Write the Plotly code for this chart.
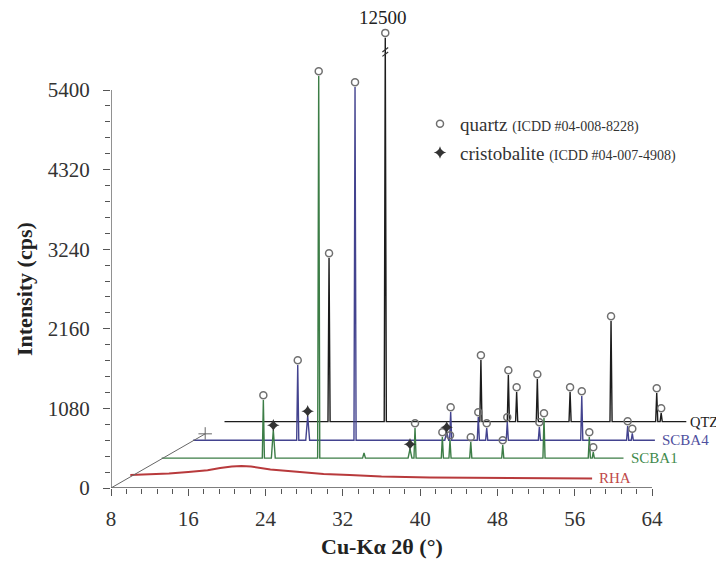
import plotly.graph_objects as go

# ---------------- data ----------------
scan_start = 10.0     # 2theta start of every pattern
scan_end = 57.8       # 2theta end of every pattern

series_names = ["RHA", "SCBA1", "SCBA4", "QTZ"]

# RHA: amorphous hump only
rha_2theta = [10, 12, 14, 16, 18, 19.3, 20.5, 21.5, 22.5, 24.5, 27.6, 30, 32.7, 36, 41, 46, 52, 57.8]
rha_counts = [176, 185, 197, 217, 240, 271, 292, 298, 292, 251, 217, 190, 176, 156, 142, 136, 132, 129]

# SCBA1
scba1_background = 160
scba1_quartz_2theta = [20.52, 26.25, 36.22, 39.05, 39.84, 41.99, 45.30, 49.57, 54.26, 54.67]
scba1_quartz_counts = [949, 5345, 569, 447, 406, 379, 338, 705, 447, 243]
scba1_cristo_2theta = [21.55, 35.70]
scba1_cristo_counts = [542, 284]
scba1_other_2theta = [30.94]
scba1_other_counts = [230]

# SCBA4
scba4_background = 158
scba4_quartz_2theta = [20.83, 26.76, 36.66, 39.52, 40.39, 42.52, 45.84, 50.23, 54.98, 55.46]
scba4_quartz_counts = [1179, 4951, 541, 473, 324, 406, 338, 758, 351, 250]
scba4_cristo_2theta = [21.86, 36.25]
scba4_cristo_counts = [487, 270]

# QTZ
qtz_background = 165
qtz_quartz_2theta = [20.82, 26.64, 36.54, 39.38, 40.24, 42.38, 45.77, 50.01, 54.74, 55.20]
qtz_quartz_counts = [2386, 12500, 1002, 798, 568, 744, 568, 1531, 554, 283]

y_tick_vals = [0, 1080, 2160, 3240, 4320, 5400]
x_tick_vals = [8, 16, 24, 32, 40, 48, 56, 64]

# ---------------- style / layout constants ----------------
DX = 3.25        # horizontal depth shift per series (deg)
DY = 245         # vertical depth shift per series (cps)
CLIP_TOP = 6110  # displayed top of the broken peak
MARK_PAD = 65
FONT = "Liberation Serif"
colors = {"RHA": "#b83a3c", "SCBA1": "#3c7d46", "SCBA4": "#43438f", "QTZ": "#1c1c1c"}
label_colors = {"RHA": "#c04a4a", "SCBA1": "#3f8a4c", "SCBA4": "#50509e", "QTZ": "#222222"}
label_shift = {"RHA": 6, "SCBA1": 6, "SCBA4": 6, "QTZ": 3}
label_size = {"RHA": 15, "SCBA1": 15, "SCBA4": 15, "QTZ": 14.5}

PAGE_OFF = 8                     # browser body margin
W, H = 724 - PAGE_OFF, 562 - PAGE_OFF
ML, MR, MT, MB = 111 - PAGE_OFF, 0, 0, 562 - 488
px_per_deg = 541 / 56.0
px_per_cps = 398 / 5400.0
PW, PH = W - ML - MR, H - MT - MB
x_range = [8, 8 + PW / px_per_deg]
y_range = [0, PH / px_per_cps]


def profile(bg, peaks):
    xs, ys = [scan_start], [bg]
    for pos, h, hw in sorted(peaks):
        xs += [pos - hw, pos, pos + hw]
        ys += [bg, h, bg]
    xs.append(scan_end)
    ys.append(bg)
    return xs, ys


patterns = {"RHA": (0, rha_2theta, rha_counts)}
p1 = ([(p, h, 0.11) for p, h in zip(scba1_quartz_2theta, scba1_quartz_counts)]
      + [(p, h, 0.2) for p, h in zip(scba1_cristo_2theta, scba1_cristo_counts)]
      + [(p, h, 0.15) for p, h in zip(scba1_other_2theta, scba1_other_counts)])
patterns["SCBA1"] = (1,) + profile(scba1_background, p1)
p4 = ([(p, h, 0.11) for p, h in zip(scba4_quartz_2theta, scba4_quartz_counts)]
      + [(p, h, 0.2) for p, h in zip(scba4_cristo_2theta, scba4_cristo_counts)])
patterns["SCBA4"] = (2,) + profile(scba4_background, p4)
pq = [(p, h, 0.11) for p, h in zip(qtz_quartz_2theta, qtz_quartz_counts)]
patterns["QTZ"] = (3,) + profile(qtz_background, pq)


def disp(d, xs, ys):
    return ([x + d * DX for x in xs], [min(y, CLIP_TOP - d * DY) + d * DY for y in ys])


fig = go.Figure()

for name in ["QTZ", "SCBA4", "SCBA1", "RHA"]:
    d, xs, ys = patterns[name]
    dx, dy = disp(d, xs, ys)
    fig.add_trace(go.Scatter(x=dx, y=dy, mode="lines", showlegend=False, hoverinfo="skip",
                             line=dict(color=colors[name], width=2 if name == "RHA" else 1.4)))

q_sets = [(1, scba1_quartz_2theta, scba1_quartz_counts),
          (2, scba4_quartz_2theta, scba4_quartz_counts),
          (3, qtz_quartz_2theta, qtz_quartz_counts)]
c_sets = [(1, scba1_cristo_2theta, scba1_cristo_counts),
          (2, scba4_cristo_2theta, scba4_cristo_counts)]
qx, qy, cx, cy = [], [], [], []
for d, ps, hs in q_sets:
    a, b = disp(d, ps, hs)
    qx += a
    qy += [v + MARK_PAD for v in b]
for d, ps, hs in c_sets:
    a, b = disp(d, ps, hs)
    cx += a
    cy += [v + MARK_PAD for v in b]

fig.add_trace(go.Scatter(
    x=qx, y=qy, mode="markers", legendgroup="q",
    name='quartz <span style="font-size:14px">(ICDD #04-008-8228)</span>',
    marker=dict(symbol="circle-open", size=7, color="#707070", line=dict(width=1.5, color="#707070"))))
fig.add_trace(go.Scatter(
    x=cx, y=cy, mode="markers", legendgroup="c",
    name='cristobalite <span style="font-size:14px">(ICDD #04-007-4908)</span>',
    marker=dict(symbol="star-diamond", size=9, color="#333333")))

axis_col = "#555555"
shapes = [
    dict(type="line", xref="x", yref="y", x0=8, y0=0, x1=8, y1=y_tick_vals[-1],
         line=dict(color=axis_col, width=1.3)),
    dict(type="line", xref="x", yref="y", x0=8, y0=0, x1=x_tick_vals[-1], y1=0,
         line=dict(color=axis_col, width=1.3)),
    dict(type="line", xref="x", yref="y", x0=8, y0=0, x1=8 + 3 * DX, y1=3 * DY,
         line=dict(color="#666666", width=1)),
    dict(type="line", xref="x", yref="y", x0=8 + 3 * DX - 0.7, y0=3 * DY, x1=8 + 3 * DX + 0.7, y1=3 * DY,
         line=dict(color="#666666", width=1)),
    dict(type="line", xref="x", yref="y", x0=8 + 3 * DX, y0=3 * DY - 80, x1=8 + 3 * DX, y1=3 * DY + 90,
         line=dict(color="#666666", width=1)),
]
bx = qtz_quartz_2theta[1] + 3 * DX
by = 5916
for off in (-30, 30):
    shapes.append(dict(type="line", xref="x", yref="y", x0=bx - 0.3, y0=by + off - 30,
                       x1=bx + 0.3, y1=by + off + 30, line=dict(color="#333333", width=1.2)))

annotations = []
for name in series_names:
    d, xs, ys = patterns[name]
    a, b = disp(d, [xs[-1]], [ys[-1]])
    annotations.append(dict(x=a[0], y=b[0], xref="x", yref="y", text=name, showarrow=False,
                            xanchor="left", yanchor="middle", xshift=label_shift[name], borderpad=0,
                            font=dict(family=FONT, size=label_size[name], color=label_colors[name])))
annotations.append(dict(x=bx, y=CLIP_TOP + MARK_PAD, xref="x", yref="y", text=str(qtz_quartz_counts[1]),
                        showarrow=False, yanchor="bottom", xshift=-2, yshift=3,
                        font=dict(family=FONT, size=19, color="#222222")))
annotations.append(dict(x=36, y=0, xref="x", yref="paper", text="<b>Cu-Kα 2θ (°)</b>", showarrow=False,
                        yanchor="middle", yshift=-58, font=dict(family=FONT, size=22, color="#222222")))
annotations.append(dict(x=0, y=2700, xref="paper", yref="y", text="<b>Intensity (cps)</b>", showarrow=False,
                        textangle=-90, xanchor="center", xshift=-87,
                        font=dict(family=FONT, size=22, color="#222222")))

x_minor = [8 + 1.6 * i for i in range(36) if (8 + 1.6 * i) % 8 > 0.01 and (8 + 1.6 * i) % 8 < 7.99]
y_minor = [216 * i for i in range(26) if i % 5 != 0]

tickfont = dict(family=FONT, size=21, color="#333333")
fig.update_layout(
    width=W, height=H, margin=dict(l=ML, r=MR, t=MT, b=MB, autoexpand=False),
    plot_bgcolor="white", paper_bgcolor="white",
    xaxis=dict(range=x_range, tickmode="array", tickvals=x_tick_vals, ticks="outside", ticklen=7,
               tickcolor=axis_col, tickwidth=1.2, showgrid=False, zeroline=False, showline=False,
               tickfont=tickfont, ticklabelstandoff=5, automargin=False,
               minor=dict(tickmode="array", tickvals=x_minor, ticks="outside", ticklen=5,
                          tickcolor=axis_col, tickwidth=1, showgrid=False)),
    yaxis=dict(range=y_range, tickmode="array", tickvals=y_tick_vals, ticks="outside", ticklen=7,
               tickcolor=axis_col, tickwidth=1.2, showgrid=False, zeroline=False, showline=False,
               tickfont=tickfont, ticklabelstandoff=9, automargin=False,
               minor=dict(tickmode="array", tickvals=y_minor, ticks="outside", ticklen=5,
                          tickcolor=axis_col, tickwidth=1, showgrid=False)),
    xaxis2=dict(range=x_range, overlaying="x", anchor="y", tickmode="array", tickvals=x_tick_vals,
                ticks="inside", ticklen=7, tickcolor=axis_col, tickwidth=1.2, showticklabels=False,
                showgrid=False, zeroline=False, showline=False, automargin=False),
    yaxis2=dict(range=y_range, overlaying="y", anchor="x", side="left", tickmode="array",
                tickvals=y_tick_vals, ticks="inside", ticklen=6, tickcolor=axis_col, tickwidth=1.2,
                showticklabels=False, showgrid=False, zeroline=False, showline=False, automargin=False),
    shapes=shapes, annotations=annotations,
    legend=dict(x=(420 - 111) / PW, y=(488 - 105) / PH, xanchor="left", yanchor="top",
                font=dict(family=FONT, size=19, color="#333333"), bgcolor="rgba(0,0,0,0)",
                traceorder="grouped", tracegroupgap=1),
    showlegend=True,
)

fig.write_html("out.html")
